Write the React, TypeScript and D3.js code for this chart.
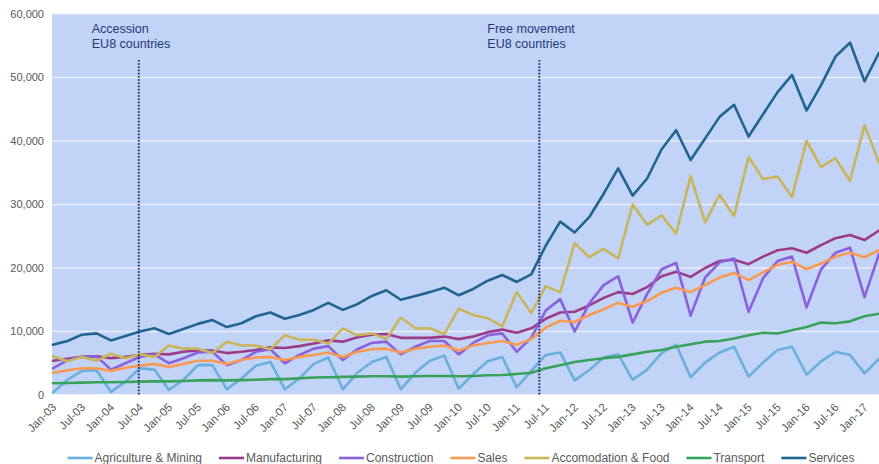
import React, { useMemo } from "react";
import * as d3 from "d3";

const quarters = [
  "Jan-03","Apr-03","Jul-03","Oct-03","Jan-04","Apr-04","Jul-04","Oct-04",
  "Jan-05","Apr-05","Jul-05","Oct-05","Jan-06","Apr-06","Jul-06","Oct-06",
  "Jan-07","Apr-07","Jul-07","Oct-07","Jan-08","Apr-08","Jul-08","Oct-08",
  "Jan-09","Apr-09","Jul-09","Oct-09","Jan-10","Apr-10","Jul-10","Oct-10",
  "Jan-11","Apr-11","Jul-11","Oct-11","Jan-12","Apr-12","Jul-12","Oct-12",
  "Jan-13","Apr-13","Jul-13","Oct-13","Jan-14","Apr-14","Jul-14","Oct-14",
  "Jan-15","Apr-15","Jul-15","Oct-15","Jan-16","Apr-16","Jul-16","Oct-16",
  "Jan-17","Apr-17",
];

const tickLabels = [
  "Jan-03","Jul-03","Jan-04","Jul-04","Jan-05","Jul-05","Jan-06","Jul-06",
  "Jan-07","Jul-07","Jan-08","Jul-08","Jan-09","Jul-09","Jan-10","Jul-10",
  "Jan-11","Jul-11","Jan-12","Jul-12","Jan-13","Jul-13","Jan-14","Jul-14",
  "Jan-15","Jul-15","Jan-16","Jul-16","Jan-17",
];

const yTicks = [0, 10000, 20000, 30000, 40000, 50000, 60000];

const agriculture = [
  400, 2400, 3800, 3900, 500, 2100, 4200, 4000, 800, 2400, 4700, 4700,
  900, 2600, 4600, 5200, 900, 2600, 4900, 5900, 900, 3500, 5200, 6000,
  900, 3500, 5400, 6200, 1000, 3300, 5300, 6000, 1200, 3800, 6300, 6700,
  2300, 3900, 5900, 6400, 2400, 4000, 6600, 7900, 2800, 5100, 6700, 7600,
  2900, 5100, 7100, 7600, 3200, 5300, 6800, 6300, 3400, 5700,
];
const manufacturing = [
  5400, 5700, 6000, 6100, 5800, 6000, 6300, 6500, 6400, 6800, 7000, 7000,
  6600, 6800, 7100, 7500, 7400, 7700, 8100, 8600, 8400, 9100, 9500, 9600,
  9000, 9000, 9000, 9200, 8800, 9200, 9900, 10300, 9800, 10500, 12000, 13000,
  13100, 14100, 15300, 16200, 15900, 17000, 18700, 19400, 18600, 20000, 21100, 21300,
  20600, 21800, 22800, 23100, 22400, 23600, 24700, 25200, 24400, 25900,
];
const construction = [
  4200, 5500, 6000, 6100, 4000, 5000, 6000, 6400, 5000, 5800, 6700, 6800,
  4700, 5500, 6800, 7200, 5000, 6300, 7300, 7700, 5500, 7200, 8200, 8400,
  6400, 7600, 8500, 8500, 6400, 8200, 9400, 9700, 6800, 9000, 13300, 15100,
  10000, 14400, 17300, 18700, 11400, 15900, 19800, 20800, 12500, 18500, 20900, 21500,
  13100, 18400, 21100, 21800, 13800, 19800, 22400, 23200, 15400, 22200,
];
const sales = [
  3500, 3900, 4200, 4200, 3800, 4300, 4600, 4900, 4400, 4900, 5400, 5400,
  4900, 5500, 5900, 6000, 5500, 6000, 6300, 6700, 6000, 6800, 7200, 7300,
  6700, 7300, 7600, 7800, 7000, 7800, 8200, 8500, 7900, 8800, 10600, 11700,
  11500, 12600, 13500, 14500, 13900, 14800, 16100, 16900, 16200, 17300, 18500, 19200,
  18100, 19300, 20500, 21000, 19800, 20700, 21800, 22400, 21700, 22800,
];
const accommodation = [
  6100, 5300, 6000, 5400, 6500, 5800, 6400, 6000, 7800, 7300, 7300, 6600,
  8400, 7800, 7800, 7200, 9400, 8700, 8700, 8100, 10500, 9400, 9700, 8800,
  12200, 10500, 10500, 9600, 13600, 12600, 12100, 10800, 16200, 12900, 17100, 16200,
  23900, 21700, 23000, 21500, 30000, 26800, 28300, 25400, 34500, 27200, 31500, 28200,
  37500, 34000, 34400, 31200, 40000, 35900, 37300, 33700, 42500, 36600,
];
const transport = [
  1850, 1900, 1950, 2000, 2000, 2050, 2100, 2150, 2150, 2200, 2300, 2350,
  2300, 2350, 2400, 2500, 2500, 2650, 2750, 2800, 2850, 2900, 2950, 2950,
  2900, 2950, 3000, 3000, 2950, 3000, 3100, 3150, 3300, 3500, 4200, 4700,
  5200, 5500, 5800, 6000, 6400, 6800, 7100, 7600, 8000, 8400, 8500, 8900,
  9400, 9800, 9700, 10200, 10700, 11400, 11300, 11600, 12400, 12800,
];
const services = [
  7900, 8500, 9500, 9700, 8600, 9300, 10000, 10500, 9600, 10400, 11200, 11800,
  10700, 11300, 12400, 13000, 12000, 12600, 13400, 14500, 13400, 14300, 15600, 16500,
  15000, 15600, 16200, 16900, 15700, 16700, 18000, 18900, 17800, 19000, 23500, 27300,
  25600, 28000, 31700, 35700, 31400, 34100, 38700, 41700, 37000, 40400, 43800, 45700,
  40700, 44200, 47700, 50400, 44800, 48800, 53300, 55500, 49400, 53900,
];

const seriesNames = [
  "Agriculture & Mining", "Manufacturing", "Construction", "Sales",
  "Accomodation & Food", "Transport", "Services",
];
const seriesValues = [agriculture, manufacturing, construction, sales, accommodation, transport, services];
const seriesColors = ["#69b0df", "#9c3c88", "#8a60de", "#fa9a52", "#c9b55c", "#37a35a", "#1f6592"];

const annotationLines = [
  { position: 5.92, lines: ["Accession", "EU8 countries"] },
  { position: 33.56, lines: ["Free movement", "EU8 countries"] },
];
const annotationTextShift = [-47, -52];

const FONT = "'Liberation Sans', Arial, sans-serif";

function measure(text: string, size: number): number {
  try {
    const c = document.createElement("canvas");
    const ctx = c.getContext("2d");
    if (ctx) {
      ctx.font = `${size}px ${FONT}`;
      return ctx.measureText(text).width;
    }
  } catch (e) {}
  return text.length * size * 0.5;
}

export default function App() {
  const W = 879;
  const H = 464;
  const left = 52;
  const top = 14;
  const bottom = 395;

  const x = d3.scaleLinear().domain([0, quarters.length - 1]).range([53, W]);
  const y = d3.scaleLinear().domain([0, 60000]).range([bottom, top]);

  const line = d3
    .line<number>()
    .x((_, i) => x(i))
    .y((d) => y(d));

  const legend = useMemo(() => {
    const sw = 25;
    const gapText = 2;
    const gapItem = 17;
    const widths = seriesNames.map((n) => measure(n, 12));
    const total = widths.reduce((a, b) => a + b, 0) + seriesNames.length * (sw + gapText) + (seriesNames.length - 1) * gapItem;
    let cx = 461 - total / 2;
    return seriesNames.map((n, i) => {
      const item = { name: n, x: cx, color: seriesColors[i] };
      cx += sw + gapText + widths[i] + gapItem;
      return item;
    });
  }, []);

  return (
    <svg
      width={W}
      height={H}
      style={{ position: "absolute", left: 0, top: 0, background: "#ffffff" }}
      fontFamily={FONT}
    >
      <rect x={left} y={top} width={W - left} height={bottom - top} fill="#c1d3f6" />
      {yTicks.map((t) => (
        <line
          key={"g" + t}
          x1={left}
          x2={W}
          y1={y(t)}
          y2={y(t)}
          stroke={t === 0 ? "#ffffff" : "#e6edfb"}
          strokeWidth={t === 60000 ? 1 : 1.5}
        />
      ))}
      {yTicks.map((t) => (
        <text
          key={"yl" + t}
          x={44}
          y={y(t)}
          dy="0.35em"
          textAnchor="end"
          fontSize={11}
          fill="#595959"
        >
          {d3.format(",")(t)}
        </text>
      ))}
      {tickLabels.map((lab, k) => {
        const idx = quarters.indexOf(lab);
        return (
          <text
            key={"xl" + lab}
            transform={`translate(${x(idx) + 4},${408}) rotate(-45)`}
            textAnchor="end"
            fontSize={11.5}
            fill="#595959"
          >
            {lab}
          </text>
        );
      })}
      {seriesValues.map((vals, i) => (
        <path
          key={"s" + i}
          d={line(vals) || ""}
          fill="none"
          stroke={seriesColors[i]}
          strokeWidth={2.6}
          strokeLinejoin="round"
          strokeLinecap="round"
        />
      ))}
      {annotationLines.map((a, i) => (
        <g key={"a" + i}>
          <line
            x1={x(a.position)}
            x2={x(a.position)}
            y1={60}
            y2={bottom}
            stroke="#1c2f6b"
            strokeWidth={2}
            strokeDasharray="1.6,1.6"
          />
          {a.lines.map((t, j) => (
            <text
              key={j}
              x={x(a.position) + annotationTextShift[i]}
              y={33 + j * 15}
              fontSize={12.5}
              fill="#223a78"
            >
              {t}
            </text>
          ))}
        </g>
      ))}
      {legend.map((it) => (
        <g key={"lg" + it.name}>
          <line
            x1={it.x}
            x2={it.x + 25}
            y1={458}
            y2={458}
            stroke={it.color}
            strokeWidth={2.6}
          />
          <text x={it.x + 27} y={458} dy="0.35em" fontSize={12} fill="#595959">
            {it.name}
          </text>
        </g>
      ))}
    </svg>
  );
}
